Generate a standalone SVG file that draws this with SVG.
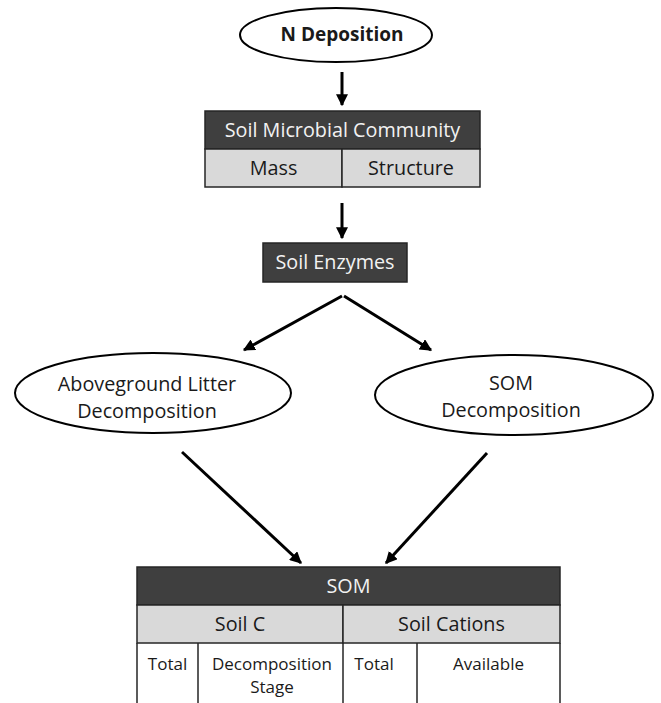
<svg xmlns="http://www.w3.org/2000/svg" width="661" height="703" viewBox="0 0 661 703">
<defs>
<style>
text{font-family:"Open Sans","Liberation Sans",sans-serif;text-anchor:middle;}
.t{font-size:19.8px;fill:#1a1a1a;}
.w{font-size:19.8px;fill:#f2f2f2;}
.s{font-size:17px;fill:#1a1a1a;}
.ell{fill:#fff;stroke:#000;stroke-width:2;}
.dark{fill:#3f3f3f;stroke:#262626;stroke-width:1.5;}
.gray{fill:#d9d9d9;stroke:#262626;stroke-width:1.5;}
.ln{stroke:#262626;stroke-width:1.5;fill:none;}
.arr{stroke:#000;stroke-width:3;fill:none;marker-end:url(#ah);}
</style>
<marker id="ah" viewBox="0 0 10 10" refX="9" refY="5" markerWidth="4" markerHeight="4" markerUnits="strokeWidth" orient="auto">
<path d="M0,0 L10,5 L0,10 z" fill="#000"/>
</marker>
</defs>
<rect width="661" height="703" fill="#fff"/>
<g id="connectors">
<line class="arr" x1="342" y1="72" x2="342" y2="105"/>
<line class="arr" x1="342" y1="203" x2="342" y2="238"/>
<line class="arr" x1="342" y1="296" x2="244" y2="350"/>
<line class="arr" x1="344" y1="296" x2="431" y2="350"/>
<line class="arr" x1="182" y1="452" x2="301" y2="563"/>
<line class="arr" x1="487" y1="453" x2="386" y2="563"/>
</g>
<g id="n-deposition">
<ellipse class="ell" cx="336" cy="35" rx="96" ry="27"/>
<text x="342" y="41" style="font-size:19px;font-weight:bold;fill:#1a1a1a">N Deposition</text>
</g>
<g id="soil-microbial-community">
<rect class="dark" x="205" y="111" width="275" height="38"/>
<rect class="gray" x="205" y="149" width="137" height="38"/>
<rect class="gray" x="342" y="149" width="138" height="38"/>
<text class="w" x="342.5" y="137">Soil Microbial Community</text>
<text class="t" x="273.5" y="175">Mass</text>
<text class="t" x="411" y="175">Structure</text>
</g>
<g id="soil-enzymes">
<rect class="dark" x="263" y="243" width="144" height="39"/>
<text class="w" x="335" y="269">Soil Enzymes</text>
</g>
<g id="aboveground-litter">
<ellipse class="ell" cx="153" cy="393" rx="138" ry="40"/>
<text class="t" x="147" y="391">Aboveground Litter</text>
<text class="t" x="147" y="418">Decomposition</text>
</g>
<g id="som-decomposition">
<ellipse class="ell" cx="514" cy="395" rx="139" ry="40"/>
<text class="t" x="511" y="390">SOM</text>
<text class="t" x="511" y="417">Decomposition</text>
</g>
<g id="som">
<rect class="dark" x="137" y="567" width="423" height="38"/>
<rect class="gray" x="137" y="605" width="206" height="38"/>
<rect class="gray" x="343" y="605" width="217" height="38"/>
<path class="ln" d="M137,643 V703 M198,643 V703 M343,643 V703 M417,643 V703 M560,643 V703"/>
<text class="w" x="348.5" y="593">SOM</text>
<text class="t" x="240" y="631">Soil C</text>
<text class="t" x="451.5" y="631">Soil Cations</text>
<text class="s" x="167.5" y="670">Total</text>
<text class="s" x="272" y="670">Decomposition</text>
<text class="s" x="272" y="693">Stage</text>
<text class="s" x="374" y="670">Total</text>
<text class="s" x="488.5" y="670">Available</text>
</g>
</svg>
